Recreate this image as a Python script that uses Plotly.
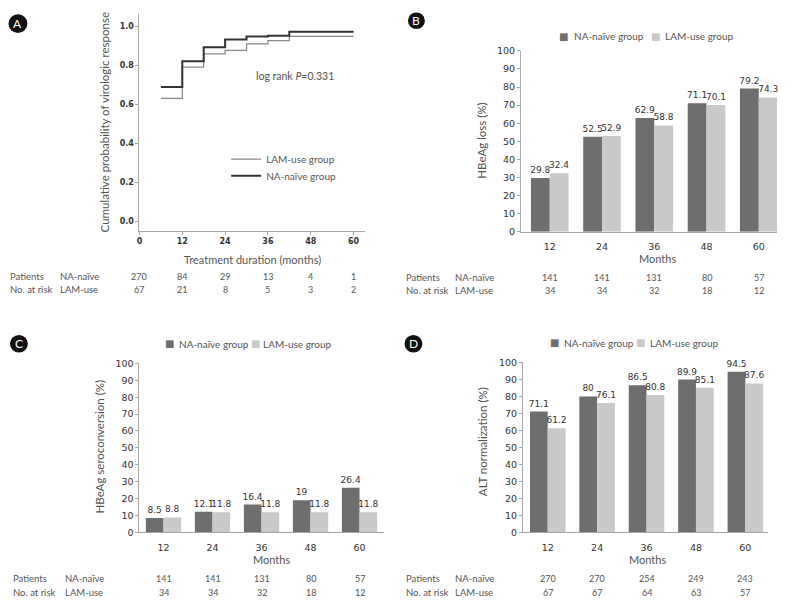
import plotly.graph_objects as go

# ---------------- data ----------------
km_times = [6, 12, 18, 24, 30, 36, 42, 60]
km_na = [0.689, 0.82, 0.893, 0.932, 0.948, 0.952, 0.972, 0.972]
km_lam = [0.63, 0.79, 0.859, 0.876, 0.91, 0.927, 0.948, 0.948]
km_ticks = [0, 12, 24, 36, 48, 60]
km_risk_na = [270, 84, 29, 13, 4, 1]
km_risk_lam = [67, 21, 8, 5, 3, 2]

months = ["12", "24", "36", "48", "60"]
loss_na = [29.8, 52.5, 62.9, 71.1, 79.2]
loss_lam = [32.4, 52.9, 58.8, 70.1, 74.3]
sero_na = [8.5, 12.1, 16.4, 19, 26.4]
sero_lam = [8.8, 11.8, 11.8, 11.8, 11.8]
alt_na = [71.1, 80, 86.5, 89.9, 94.5]
alt_lam = [61.2, 76.1, 80.8, 85.1, 87.6]
risk_bc_na = [141, 141, 131, 80, 57]
risk_bc_lam = [34, 34, 32, 18, 12]
risk_d_na = [270, 270, 254, 249, 243]
risk_d_lam = [67, 67, 64, 63, 57]

W, H = 792, 607
DARK = "#6e6e6e"
LIGHT = "#c9c9c9"
AXC = "#a8a8a8"
TXT = "#555555"
TFONT = "Lato, sans-serif"
NFONT = "DejaVu Sans, sans-serif"


def fx(p):
    return p / W


def fy(p):
    return 1 - p / H


fig = go.Figure()

# ---------------- Panel A: KM curves ----------------
fig.add_trace(go.Scatter(x=km_times, y=km_lam, mode="lines", line_shape="hv",
                         line=dict(color="#8a8a8a", width=1.3), name="LAM-use group",
                         xaxis="x", yaxis="y", legend="legend"))
fig.add_trace(go.Scatter(x=km_times, y=km_na, mode="lines", line_shape="hv",
                         line=dict(color="#333333", width=2), name="NA-naïve group",
                         xaxis="x", yaxis="y", legend="legend2"))

# ---------------- Bar panels ----------------
panels = [("x2", "y2", loss_na, loss_lam), ("x3", "y3", sero_na, sero_lam),
          ("x4", "y4", alt_na, alt_lam)]
for xa, ya, na, lam in panels:
    for vals, col, nm in ((na, DARK, "NA-naïve group"), (lam, LIGHT, "LAM-use group")):
        fig.add_trace(go.Bar(x=months, y=vals, marker=dict(color=col, line_width=0),
                             name=nm, showlegend=False, xaxis=xa, yaxis=ya,
                             text=[str(v) for v in vals], textposition="outside",
                             constraintext="none", cliponaxis=False,
                             textfont=dict(family=NFONT, size=9, color="#333333")))

axis_common = dict(showline=True, linecolor=AXC, linewidth=1, showgrid=False, zeroline=False,
                   ticks="outside", tickcolor=AXC, ticklen=3)

leg_common = dict(xanchor="left", yanchor="middle", bgcolor="rgba(0,0,0,0)",
                  font=dict(family=TFONT, size=10, color=TXT))

layout = dict(
    width=W, height=H, margin=dict(l=0, r=0, t=0, b=0),
    paper_bgcolor="white", plot_bgcolor="white",
    barmode="group", bargap=0.28, bargroupgap=0,
    font=dict(family=TFONT, color=TXT),
    xaxis=dict(domain=[fx(137), fx(363)], anchor="y", range=[0, 63.1], tickvals=km_ticks,
               tickfont=dict(family=NFONT, size=8, color="#333", weight="bold"), **axis_common),
    yaxis=dict(domain=[fy(229), fy(8)], anchor="x", range=[-0.0504, 1.064],
               tickvals=[0, 0.2, 0.4, 0.6, 0.8, 1.0], tickformat=".1f",
               tickfont=dict(family=NFONT, size=8, color="#333", weight="bold"), **axis_common),
    legend=dict(x=fx(224), y=fy(156), **leg_common),
    legend2=dict(x=fx(224), y=fy(173), **leg_common),
)

bar_axes = {
    "2": dict(xd=(520, 777), yd=(45.7, 230), xr=[-0.55, 4.35]),
    "3": dict(xd=(137, 382), yd=(364, 536), xr=[-0.49, 4.49]),
    "4": dict(xd=(522, 768), yd=(363, 536), xr=[-0.5, 4.46]),
}
for k, d in bar_axes.items():
    ac = dict(axis_common)
    layout["xaxis" + k] = dict(domain=[fx(d["xd"][0]), fx(d["xd"][1])], anchor="y" + k,
                               type="category", range=d["xr"],
                               showline=True, linecolor=AXC, ticks="", showgrid=False,
                               ticklabelstandoff=6,
                               tickfont=dict(family=NFONT, size=9.5, color="#333"))
    layout["yaxis" + k] = dict(domain=[fy(d["yd"][1]), fy(d["yd"][0])], anchor="x" + k,
                               range=[0, 100], dtick=10,
                               tickfont=dict(family=NFONT, size=9.5, color="#333"), **ac)

fig.update_layout(**layout)

ann = []


def txt(x, y, s, size=10.5, xanchor="center", xref="paper", yref="paper", angle=0,
        color=TXT, family=TFONT):
    ann.append(dict(x=x, y=y, text=s, showarrow=False, xref=xref, yref=yref,
                    xanchor=xanchor, yanchor="middle", textangle=angle,
                    font=dict(size=size, color=color, family=family)))


# axis titles
txt(fx(102), fy(119), "Cumulative probability of virologic response", size=11.5, angle=-90)
txt(fx(250), fy(258), "Treatment duration (months)", size=11)
txt(fx(480), fy(137), "HBeAg loss (%)", size=11.5, angle=-90)
txt(fx(657), fy(257), "Months", size=11)
txt(fx(97), fy(449), "HBeAg seroconversion (%)", size=11.5, angle=-90)
txt(fx(270), fy(564), "Months", size=11)
txt(fx(482), fy(444), "ALT normalization (%)", size=11.5, angle=-90)
txt(fx(647), fy(564), "Months", size=11)

# log rank
txt(fx(252), fy(71), "log rank <i>P</i>=0.331", size=10.5, xanchor="left")

# risk tables
tables = [
    ("x", km_ticks, km_risk_na, km_risk_lam, 5, 55, 276, 289, False),
    ("x2", months, risk_bc_na, risk_bc_lam, 403, 452, 277, 290, True),
    ("x3", months, risk_bc_na, risk_bc_lam, 8, 60, 583, 597, True),
    ("x4", months, risk_d_na, risk_d_lam, 403, 452, 583, 597, True),
]
for xr, cats, rna, rlam, xl, xg, y1, y2, is_cat in tables:
    txt(fx(xl), fy(y1), "Patients", size=9.5, xanchor="left")
    txt(fx(xl), fy(y2), "No. at risk", size=9.5, xanchor="left")
    txt(fx(xg), fy(y1), "NA-naïve", size=9.5, xanchor="left")
    txt(fx(xg), fy(y2), "LAM-use", size=9.5, xanchor="left")
    for i, (c, a, b) in enumerate(zip(cats, rna, rlam)):
        pos = i if is_cat else c
        txt(pos, fy(y1), str(a), size=9, xref=xr)
        txt(pos, fy(y2), str(b), size=9, xref=xr)

# bar legends (swatch glyph + text)
legs = [(563, 571, 654.5, 663, 31), (167, 175, 253, 259, 344), (553.5, 561, 640, 647, 343)]
for sq1, t1, sq2, t2, yy in legs:
    txt(fx(sq1), fy(yy), "■", size=10, color=DARK, family="DejaVu Sans")
    txt(fx(t1), fy(yy), "NA-naïve group", size=10, xanchor="left")
    txt(fx(sq2), fy(yy), "■", size=10, color=LIGHT, family="DejaVu Sans")
    txt(fx(t2), fy(yy), "LAM-use group", size=10, xanchor="left")

# panel letters
shapes = []
for letter, cx, cy, r in (("A", 15, 18, 9.5), ("B", 415, 15, 8.5), ("C", 16, 344, 9), ("D", 412, 344, 9)):
    shapes.append(dict(type="circle", xref="paper", yref="paper", x0=fx(cx - r), x1=fx(cx + r),
                       y0=fy(cy + r), y1=fy(cy - r), fillcolor="#111111", line_width=0))
    txt(fx(cx), fy(cy), letter, size=12, color="white", family="Lato")

fig.update_layout(annotations=ann, shapes=shapes)
fig.write_html("out.html", config={"displayModeBar": False},
               post_script="document.body.style.margin='0';document.body.style.overflow='hidden';")
